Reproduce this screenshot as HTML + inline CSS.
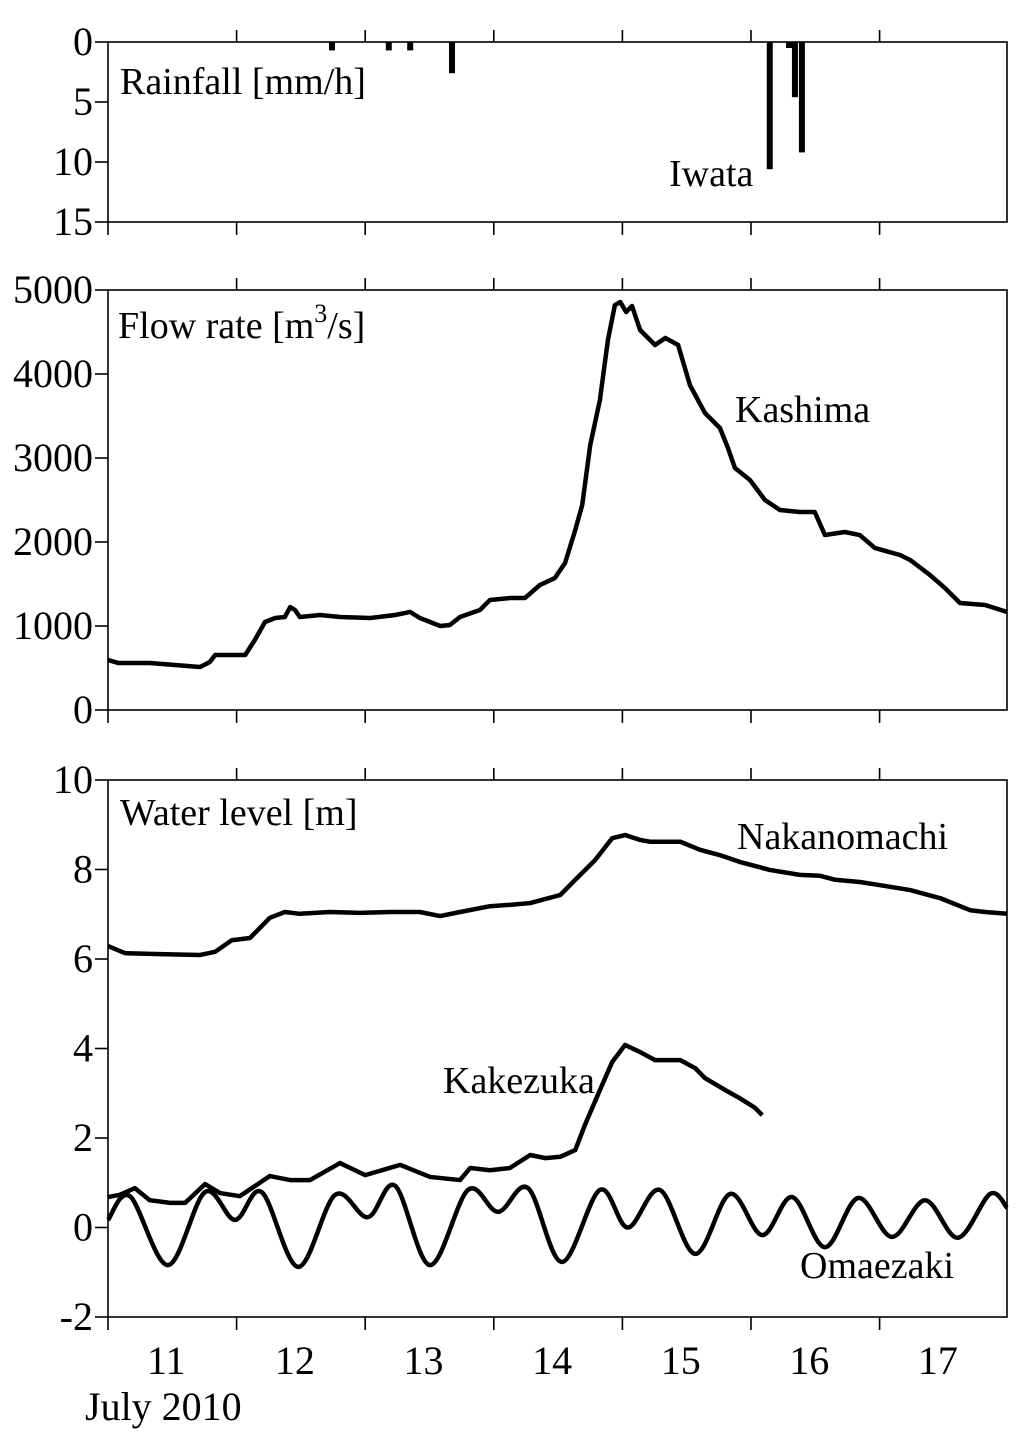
<!DOCTYPE html>
<html><head><meta charset="utf-8"><style>
html,body{margin:0;padding:0;background:#fff}
svg{display:block}
text{font-family:"Liberation Serif",serif;font-size:38px;fill:#000}
text.ax{font-size:40px}
</style></head><body>
<svg id="chart" width="1024" height="1433" viewBox="0 0 1024 1433" xmlns="http://www.w3.org/2000/svg"></svg>
<script>
// ---- data (time in hours from July 11 00:00) ----
const rainHours=[41.8,52.4,56.4,64.2,123.5,127.1,128.2,129.5];
const rainValues=[0.7,0.7,0.7,2.6,10.6,0.5,4.6,9.2];
const flowHours=[0,1.9,7.8,17.2,19.0,20.0,22.8,25.6,27.4,29.3,31.2,33.0,34.0,34.9,35.8,39.6,43.3,48.9,53.6,56.4,58.2,62.0,63.8,65.7,69.4,71.3,75.0,77.8,80.6,83.4,85.3,87.2,88.5,90.0,91.8,93.3,94.6,95.6,96.7,97.8,99.3,102.1,104.0,106.4,108.6,111.4,114.2,115.7,117.0,119.8,122.6,125.4,129.1,131.9,133.8,137.5,140.3,143.1,147.8,149.7,153.4,156.2,159.0,163.7,167.8];
const flowValues=[595,560,560,512,571,655,655,655,833,1048,1095,1107,1226,1190,1107,1131,1107,1095,1131,1167,1095,1000,1012,1107,1190,1310,1333,1333,1488,1571,1750,2143,2440,3155,3690,4405,4821,4857,4738,4810,4524,4345,4429,4345,3869,3536,3357,3119,2881,2738,2500,2381,2357,2357,2083,2119,2083,1929,1845,1786,1607,1452,1274,1250,1167];
const nakaHours=[0,3.2,9.7,17.2,20.0,23.1,26.5,30.2,33.0,35.8,41.4,47.0,52.6,58.2,62.0,65.7,71.3,75.0,78.8,84.4,87.2,90.9,94.1,96.5,99.3,101.2,106.8,110.5,114.2,117.9,123.5,129.1,132.9,135.7,140.3,144.1,149.7,155.3,160.9,163.7,167.8];
const nakaValues=[6.29,6.13,6.11,6.09,6.16,6.42,6.47,6.92,7.05,7.01,7.05,7.03,7.05,7.05,6.96,7.05,7.18,7.21,7.25,7.43,7.77,8.21,8.70,8.77,8.66,8.62,8.62,8.44,8.32,8.17,7.99,7.88,7.86,7.77,7.72,7.65,7.54,7.36,7.09,7.05,7.01];
const kakeHours=[0,2.2,5.0,7.8,11.6,14.4,18.1,20.9,24.6,30.2,34.0,37.7,43.3,48.0,54.5,60.1,65.7,67.6,71.3,75.0,78.8,81.6,84.4,87.2,89.0,91.8,94.1,96.5,99.3,102.1,106.8,109.6,111.4,115.2,117.9,120.8,122.1];
const kakeValues=[0.68,0.73,0.88,0.61,0.55,0.55,0.97,0.77,0.70,1.15,1.06,1.06,1.44,1.17,1.40,1.13,1.06,1.33,1.28,1.33,1.62,1.55,1.58,1.73,2.29,3.07,3.70,4.08,3.92,3.74,3.74,3.56,3.34,3.07,2.89,2.67,2.51];
const omaeHours=[0,4.1,11.2,18.1,23.7,28.7,35.5,42.4,48.5,53.6,60.1,67.2,72.8,78.4,84.7,91.8,97.0,103.0,109.6,116.1,122.1,127.7,133.8,140.0,146.3,152.5,158.6,164.6,167.8];
const omaeValues=[0.17,0.70,-0.84,0.79,0.17,0.79,-0.88,0.73,0.23,0.93,-0.84,0.84,0.35,0.88,-0.77,0.84,0.0,0.84,-0.59,0.75,-0.17,0.68,-0.44,0.66,-0.21,0.61,-0.23,0.75,0.44];
const dayLabels=["11","12","13","14","15","16","17"];
const rainTicks=[0,5,10,15];
const flowTicks=[0,1000,2000,3000,4000,5000];
const levelTicks=[-2,0,2,4,6,8,10];

const NS="http://www.w3.org/2000/svg";
const svg=document.getElementById('chart');
const X0=108,X1=1007,PXH=128.6/24;
const xs=h=>X0+h*PXH;
function mk(tag,at,parent){const e=document.createElementNS(NS,tag);for(const k in at)e.setAttribute(k,at[k]);(parent||svg).appendChild(e);return e;}
function lin(d0,d1,r0,r1){return v=>r0+(v-d0)/(d1-d0)*(r1-r0);}
const yRain=lin(0,15,42,222), yFlow=lin(0,5000,710,290), yLev=lin(-2,10,1317,780);

function panel(name,top,bot,ticks,ys){
  const g=mk('g',{});
  
  
  mk('rect',{x:X0,y:top,width:X1-X0,height:bot-top,fill:'none',stroke:'#000','stroke-width':1.6},g);
  for(let k=1;k<=6;k++){const x=xs(24*k);
    mk('line',{x1:x,x2:x,y1:top-12,y2:top,stroke:'#000','stroke-width':1.6},g);
    mk('line',{x1:x,x2:x,y1:bot,y2:bot+13,stroke:'#000','stroke-width':1.6},g);}
  mk('line',{x1:X0,x2:X0,y1:bot,y2:bot+13,stroke:'#000','stroke-width':1.6},g);
  ticks.forEach(v=>{const y=ys(v);
    mk('line',{x1:X0-13,x2:X0,y1:y,y2:y,stroke:'#000','stroke-width':1.6},g);
    const t=mk('text',{x:93,y:y+13,'text-anchor':'end','class':'ax'},g);t.textContent=v;
    
    });
}
function label(txt,x,y,name){const t=mk('text',{x:x,y:y});t.textContent=txt;
  return t;}
function line(hs,vs,ys,name,smooth){
  const p=hs.map((h,i)=>[xs(h),ys(vs[i])]);
  let d='M'+p[0][0]+','+p[0][1];
  for(let i=1;i<p.length;i++){
    if(!smooth){d+='L'+p[i][0]+','+p[i][1];continue;}
    const a=p[i-2]||p[i-1],b=p[i-1],c=p[i],e=p[i+1]||p[i];
    d+='C'+(b[0]+(c[0]-a[0])/6)+','+(b[1]+(c[1]-a[1])/6)+' '+(c[0]-(e[0]-b[0])/6)+','+(c[1]-(e[1]-b[1])/6)+' '+c[0]+','+c[1];}
  const el=mk('path',{d:d,fill:'none',stroke:'#000','stroke-width':4.5,'stroke-linejoin':'round'});
  
}

panel('rainfall',42,222,rainTicks,yRain);
panel('flow',290,710,flowTicks,yFlow);
panel('level',780,1317,levelTicks,yLev);

rainHours.forEach((h,i)=>{const r=mk('rect',{x:xs(h)-3,y:yRain(0),width:6,height:yRain(rainValues[i])-yRain(0),fill:'#000'});
  });
line(flowHours,flowValues,yFlow,'kashima-flow-line',false);
line(nakaHours,nakaValues,yLev,'nakanomachi-line',false);
line(kakeHours,kakeValues,yLev,'kakezuka-line',false);
line(omaeHours,omaeValues,yLev,'omaezaki-line',true);

label('Rainfall [mm/h]',120,94,'rainfall-title');
label('Iwata',669,186,'iwata-label');
const ft=label('Flow rate [m',118,338,'flow-title');
const sup=mk('tspan',{dy:-16,'font-size':26},ft);sup.textContent='3';
const rest=mk('tspan',{dy:16},ft);rest.textContent='/s]';
label('Kashima',735,422,'kashima-label');
label('Water level [m]',120,825,'level-title');
label('Nakanomachi',737,849,'nakanomachi-label');
label('Kakezuka',443,1093,'kakezuka-label');
label('Omaezaki',800,1278,'omaezaki-label');
dayLabels.forEach((s,i)=>{const t=label(s,xs(24*i+12)-6,1374,'day-label');t.setAttribute('text-anchor','middle');t.setAttribute('class','ax');});
const jt=label('July 2010',85,1420,'x-axis-title');jt.setAttribute('class','ax');
</script>
</body></html>
